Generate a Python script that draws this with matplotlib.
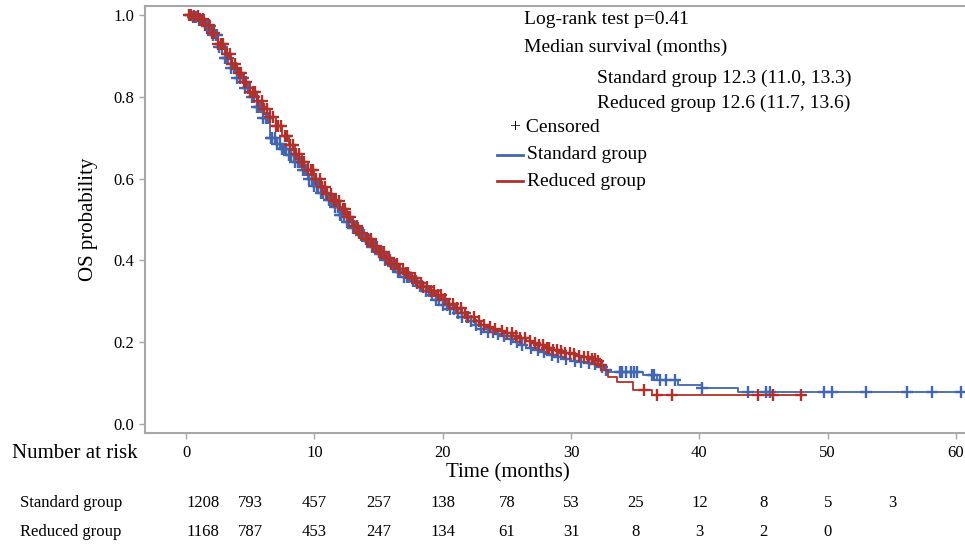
import numpy as np
import matplotlib
matplotlib.use("Agg")
import matplotlib.pyplot as plt
from matplotlib.transforms import blended_transform_factory

plt.rcParams["font.family"] = ["Liberation Serif", "DejaVu Serif"]

# Kaplan-Meier curves (time in months, survival probability)
std_time = [0, 0.5, 1.0, 1.5, 2.0, 2.5, 3.0, 3.5, 4.0, 4.5, 5.0, 5.5, 6.0, 6.5, 7.0, 7.5,
            8.0, 8.5, 9.0, 9.5, 10.0, 10.5, 11.0, 11.5, 12.0, 12.5, 13.0, 13.5, 14.0, 14.5,
            15.0, 15.5, 16.0, 16.5, 17.0, 17.5, 18.0, 18.5, 19.0, 19.5, 20.0, 20.5, 21.0,
            21.5, 22.0, 22.5, 23.0, 23.5, 24.0, 24.5, 25.0, 25.5, 26.0, 26.5, 27.0, 27.5,
            28.0, 28.5, 29.0, 29.5, 30.0, 30.5, 31.0, 31.5, 32.0, 32.5, 32.8, 35.6, 36.7,
            38.3, 40.2, 43.0, 60.6]
std_surv = [1.0, 0.996, 0.988, 0.972, 0.95, 0.922, 0.895, 0.87, 0.845, 0.822, 0.80, 0.775,
            0.748, 0.70, 0.685, 0.672, 0.658, 0.64, 0.62, 0.60, 0.582, 0.565, 0.548, 0.53,
            0.512, 0.495, 0.478, 0.463, 0.447, 0.432, 0.415, 0.40, 0.386, 0.372, 0.36, 0.349,
            0.337, 0.326, 0.315, 0.304, 0.292, 0.282, 0.272, 0.262, 0.252, 0.242, 0.232,
            0.226, 0.22, 0.214, 0.208, 0.20, 0.192, 0.185, 0.18, 0.176, 0.171, 0.168, 0.163,
            0.158, 0.154, 0.152, 0.15, 0.146, 0.14, 0.132, 0.127, 0.12, 0.108, 0.095, 0.088,
            0.079, 0.079]

red_time = [0, 0.5, 1.0, 1.5, 2.0, 2.5, 3.0, 3.5, 4.0, 4.5, 5.0, 5.5, 6.0, 6.5, 7.0, 7.5,
            8.0, 8.5, 9.0, 9.5, 10.0, 10.5, 11.0, 11.5, 12.0, 12.5, 13.0, 13.5, 14.0, 14.5,
            15.0, 15.5, 16.0, 16.5, 17.0, 17.5, 18.0, 18.5, 19.0, 19.5, 20.0, 20.5, 21.0,
            21.5, 22.0, 22.5, 23.0, 23.5, 24.0, 24.5, 25.0, 25.5, 26.0, 26.5, 27.0, 27.5,
            28.0, 28.5, 29.0, 29.5, 30.0, 30.5, 31.0, 31.5, 32.0, 32.3, 32.6, 32.9, 33.6,
            34.8, 36.3, 48.0]
red_surv = [1.0, 0.997, 0.99, 0.975, 0.955, 0.93, 0.905, 0.88, 0.857, 0.835, 0.812, 0.79,
            0.77, 0.75, 0.728, 0.705, 0.682, 0.66, 0.64, 0.62, 0.60, 0.58, 0.562, 0.545,
            0.525, 0.505, 0.485, 0.468, 0.452, 0.435, 0.42, 0.405, 0.392, 0.38, 0.368, 0.357,
            0.345, 0.335, 0.325, 0.315, 0.305, 0.294, 0.283, 0.272, 0.262, 0.252, 0.243,
            0.237, 0.232, 0.227, 0.222, 0.216, 0.21, 0.204, 0.197, 0.192, 0.187, 0.182,
            0.178, 0.174, 0.17, 0.167, 0.164, 0.16, 0.153, 0.145, 0.132, 0.115, 0.103, 0.083,
            0.071, 0.071]

# censoring times
std_cens = [0.3, 0.5, 0.7, 0.8, 1.0, 1.2, 1.4, 1.6, 1.7, 1.9, 2.1, 2.3, 2.4, 2.6, 2.8, 3.0,
            3.1, 3.3, 3.5, 3.7, 3.9, 4.0, 4.2, 4.4, 4.6, 4.8, 4.9, 5.1, 5.3, 5.5, 5.7, 5.8,
            6.0, 6.2, 6.4, 6.6, 6.7, 6.9, 7.1, 7.3, 7.5, 7.6, 7.8, 8.0, 8.2, 8.4, 8.5, 8.7,
            8.9, 9.1, 9.3, 9.4, 9.6, 9.8, 10.0, 10.2, 10.3, 10.5, 10.7, 10.9, 11.1, 11.2,
            11.4, 11.6, 11.8, 12.0, 12.1, 12.3, 12.5, 12.7, 12.9, 13.0, 13.2, 13.4, 13.6,
            13.8, 13.9, 14.1, 14.3, 14.5, 14.7, 14.9, 15.1, 15.3, 15.5, 15.7, 15.9, 16.1,
            16.3, 16.5, 16.7, 17.0, 17.2, 17.4, 17.7, 17.9, 18.2, 18.4, 18.7, 18.9, 19.2,
            19.5, 19.7, 20.0, 20.3, 20.6, 20.9, 21.2, 21.5, 21.9, 22.2, 22.6, 23.0, 23.5,
            23.9, 24.3, 24.8, 25.3, 25.8, 26.2, 26.9, 27.4, 27.9, 28.5, 29.0, 29.6, 30.3,
            30.8, 31.4, 31.9, 32.4, 32.7, 33.8, 34.0, 34.3, 34.7, 34.9, 35.1, 36.3, 36.5,
            36.9, 37.4, 38.1, 40.2, 43.8, 45.2, 45.5, 49.7, 50.3, 53.0, 56.2, 58.1, 60.4]
red_cens = [0.2, 0.4, 0.6, 0.9, 1.1, 1.3, 1.5, 1.8, 2.0, 2.2, 2.5, 2.7, 2.9, 3.2, 3.4, 3.6,
            3.8, 4.1, 4.3, 4.5, 4.7, 5.0, 5.2, 5.4, 5.6, 5.9, 6.1, 6.3, 6.5, 6.8, 7.0, 7.2,
            7.4, 7.7, 7.9, 8.1, 8.3, 8.6, 8.8, 9.0, 9.2, 9.5, 9.7, 9.9, 10.1, 10.4, 10.6,
            10.8, 11.0, 11.3, 11.5, 11.7, 11.9, 12.2, 12.4, 12.6, 12.8, 13.1, 13.3, 13.5,
            13.7, 14.0, 14.2, 14.4, 14.6, 14.8, 15.0, 15.2, 15.4, 15.6, 15.8, 16.0, 16.2,
            16.4, 16.6, 16.9, 17.1, 17.3, 17.6, 17.8, 18.0, 18.3, 18.5, 18.8, 19.1, 19.3,
            19.6, 19.9, 20.2, 20.5, 20.8, 21.1, 21.4, 21.7, 22.0, 22.4, 22.8, 23.2, 23.7,
            24.1, 24.6, 25.0, 25.4, 25.7, 26.0, 26.4, 26.8, 27.2, 27.5, 27.8, 28.1, 28.3,
            28.6, 28.9, 29.2, 29.5, 29.9, 30.2, 30.6, 31.0, 31.3, 31.6, 31.9, 32.1, 32.3,
            35.7, 36.7, 37.9, 44.6, 45.7, 47.9]

risk_times = [0, 5, 10, 15, 20, 25, 30, 35, 40, 45, 50, 55]
risk_std = [1208, 793, 457, 257, 138, 78, 53, 25, 12, 8, 5, 3]
risk_red = [1168, 787, 453, 247, 134, 61, 31, 8, 3, 2, 0]

BLUE = "#4266b0"
RED = "#b3302a"
GRAY = "#a8a8a8"


def surv_at(t, times, surv):
    idx = np.searchsorted(times, t, side="right") - 1
    return np.asarray(surv)[idx]


fig = plt.figure(figsize=(9.65, 5.49), dpi=100)
ax = fig.add_axes([0.1503, 0.2113, 0.8497, 0.7778])

for times, surv, cens, col in [(std_time, std_surv, std_cens, BLUE),
                               (red_time, red_surv, red_cens, RED)]:
    ax.plot(times, surv, drawstyle="steps-post", color=col, lw=1.3)
    ax.plot(cens, surv_at(np.array(cens), times, surv), ls="none", marker="+",
            ms=8, mew=1.7, color=col)

ax.set_xlim(-3.2, 60.7)
ax.set_ylim(-0.022, 1.022)
ax.set_xticks(range(0, 61, 10))
ax.set_yticks([0.0, 0.2, 0.4, 0.6, 0.8, 1.0])
ax.set_yticklabels(["0.0", "0.2", "0.4", "0.6", "0.8", "1.0"])
ax.tick_params(axis="both", colors=GRAY, labelcolor="black", labelsize=12, length=4, width=1)
ax.tick_params(axis="x", pad=5)
for side in ["left", "top", "bottom"]:
    ax.spines[side].set_color(GRAY)
    ax.spines[side].set_linewidth(1.5)
ax.spines["right"].set_visible(False)
ax.set_ylabel("OS probability", fontsize=15, labelpad=11)

# annotation block
fig.text(524 / 965, 1 - 20 / 549, "Log-rank test p=0.41", fontsize=14, va="center")
fig.text(524 / 965, 1 - 47 / 549, "Median survival (months)", fontsize=14, va="center")
fig.text(597 / 965, 1 - 78 / 549, "Standard group 12.3 (11.0, 13.3)", fontsize=14, va="center")
fig.text(597 / 965, 1 - 103 / 549, "Reduced group 12.6 (11.7, 13.6)", fontsize=14, va="center")
fig.text(510 / 965, 1 - 128 / 549, "+ Censored", fontsize=14, va="center")
for yy, lab, col in [(155, "Standard group", BLUE), (181, "Reduced group", RED)]:
    fig.add_artist(plt.Line2D([497 / 965, 523 / 965], [1 - yy / 549, 1 - yy / 549],
                              color=col, lw=2))
    fig.text(527 / 965, 1 - yy / 549, lab, fontsize=14, va="center")

# number at risk table
fig.text(12 / 965, 1 - 453 / 549, "Number at risk", fontsize=15, va="center")
fig.text(508 / 965, 1 - 473 / 549, "Time (months)", fontsize=15, va="center", ha="center")
trans = blended_transform_factory(ax.transData, fig.transFigure)
fig.text(20 / 965, 1 - 503 / 549, "Standard group", fontsize=12, va="center")
fig.text(20 / 965, 1 - 532 / 549, "Reduced group", fontsize=12, va="center")
for row_y, counts in [(503, risk_std), (532, risk_red)]:
    for t, n in zip(risk_times, counts):
        ax.text(t, 1 - row_y / 549, str(n), transform=trans, fontsize=12,
                ha="left" if t == 0 else "center", va="center")

fig.savefig("out.png", dpi=100)
